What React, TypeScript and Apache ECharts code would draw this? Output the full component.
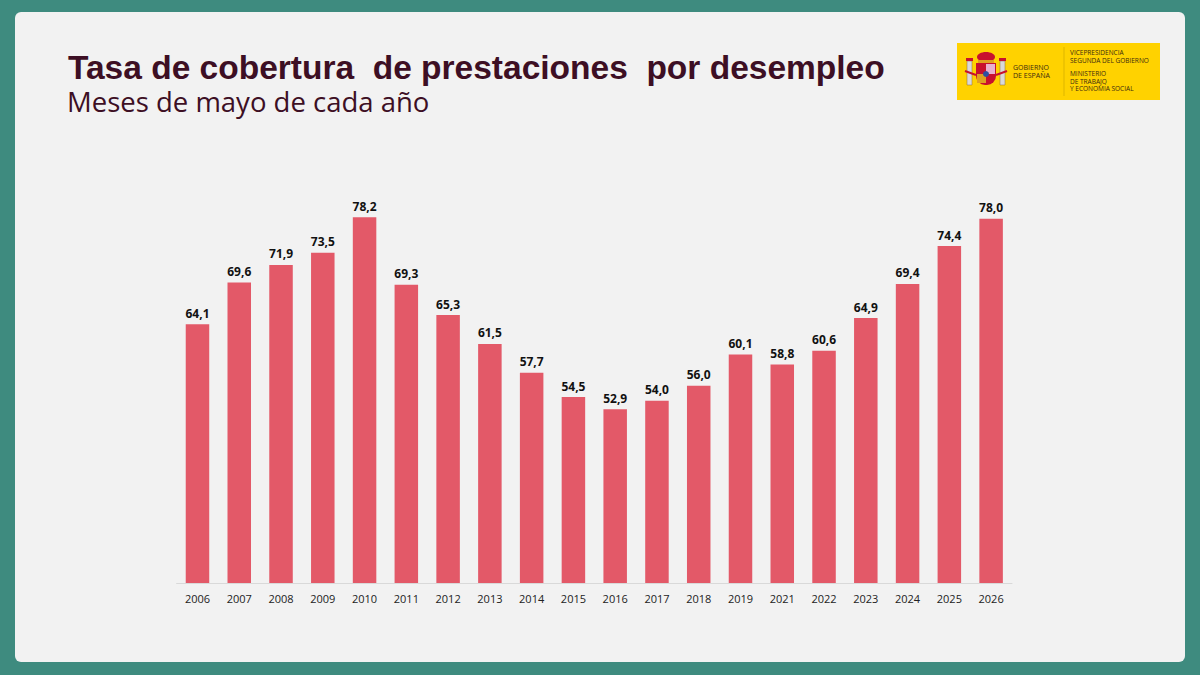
import React, { useEffect, useRef } from "react";
import * as echarts from "echarts";

const years = ["2006","2007","2008","2009","2010","2011","2012","2013","2014","2015","2016","2017","2018","2019","2021","2022","2023","2024","2025","2026"];
const coverage = [64.1,69.6,71.9,73.5,78.2,69.3,65.3,61.5,57.7,54.5,52.9,54.0,56.0,60.1,58.8,60.6,64.9,69.4,74.4,78.0];

const titleText = "Tasa de cobertura  de prestaciones  por desempleo";
const subtitleText = "Meses de mayo de cada año";

const maroon = "#3d0f24";
const barColor = "#e35968";

export default function App() {
  const ref = useRef<HTMLDivElement>(null);
  useEffect(() => {
    if (!ref.current) return;
    const chart = echarts.init(ref.current, undefined, { renderer: "svg" });
    const logoX = 957, logoY = 43;
    chart.setOption({
      animation: false,
      backgroundColor: "#3e8b7f",
      graphic: [
        { type: "rect", z: -10, shape: { x: 15, y: 12, width: 1170, height: 650, r: 6 }, style: { fill: "#f2f2f2" } },
        { type: "text", left: 68, top: 50, style: { text: titleText, font: "bold 33.5px 'Liberation Sans', Arial, sans-serif", fill: maroon } },
        { type: "text", left: 67, top: 87, style: { text: subtitleText, font: "27.5px 'Open Sans', sans-serif", fill: maroon } },
        // logo
        {
          type: "group", x: logoX, y: logoY, children: [
            { type: "rect", shape: { x: 0, y: 0, width: 203, height: 57 }, style: { fill: "#ffd200" } },
            // coat of arms (simplified)
            { type: "rect", shape: { x: 10, y: 18, width: 5, height: 24 }, style: { fill: "#d9d9d9", stroke: "#8a6a3a", lineWidth: 0.5 } },
            { type: "rect", shape: { x: 43, y: 18, width: 5, height: 24 }, style: { fill: "#d9d9d9", stroke: "#8a6a3a", lineWidth: 0.5 } },
            { type: "rect", shape: { x: 9, y: 15, width: 7, height: 3 }, style: { fill: "#c8102e" } },
            { type: "rect", shape: { x: 42, y: 15, width: 7, height: 3 }, style: { fill: "#c8102e" } },
            { type: "ellipse", shape: { cx: 29, cy: 14, rx: 9, ry: 5 }, style: { fill: "#c8102e" } },
            { type: "rect", shape: { x: 21, y: 17, width: 16, height: 3 }, style: { fill: "#e0a020" } },
            { type: "rect", shape: { x: 19, y: 20, width: 20, height: 22, r: [0, 0, 9, 9] }, style: { fill: "#c8102e" } },
            { type: "rect", shape: { x: 29, y: 21, width: 9, height: 10 }, style: { fill: "#e8b0d0" } },
            { type: "rect", shape: { x: 20, y: 31, width: 9, height: 9 }, style: { fill: "#e0a020" } },
            { type: "circle", shape: { cx: 29, cy: 31, r: 3 }, style: { fill: "#3050a0" } },
            { type: "line", shape: { x1: 8, y1: 28, x2: 19, y2: 32 }, style: { stroke: "#c8102e", lineWidth: 2 } },
            { type: "line", shape: { x1: 39, y1: 32, x2: 50, y2: 28 }, style: { stroke: "#c8102e", lineWidth: 2 } },
            { type: "text", x: 56, y: 20, style: { text: "GOBIERNO\nDE ESPAÑA", font: "7px 'Open Sans', sans-serif", fill: "#3a2a10", lineHeight: 8.5 } },
            { type: "line", shape: { x1: 107, y1: 4, x2: 107, y2: 53 }, style: { stroke: "#b89a00", lineWidth: 0.5 } },
            { type: "text", x: 113, y: 5, style: { text: "VICEPRESIDENCIA\nSEGUNDA DEL GOBIERNO", font: "6.5px 'Open Sans', sans-serif", fill: "#3a2a10", lineHeight: 8 } },
            { type: "text", x: 113, y: 27, style: { text: "MINISTERIO\nDE TRABAJO\nY ECONOMÍA SOCIAL", font: "6.5px 'Open Sans', sans-serif", fill: "#3a2a10", lineHeight: 7.5 } },
          ],
        },
      ],
      grid: { left: 176.6, right: 188, top: 203.5, bottom: 92 },
      xAxis: {
        type: "category",
        data: years,
        axisLine: { lineStyle: { color: "#d9d9d9", width: 1 } },
        axisTick: { show: false },
        axisLabel: { color: "#222", fontSize: 11, fontFamily: "'Open Sans', sans-serif", margin: 10 },
      },
      yAxis: {
        type: "value",
        min: 30,
        max: 80,
        show: false,
        splitLine: { show: false },
      },
      series: [
        {
          type: "bar",
          data: coverage,
          barWidth: 23.5,
          itemStyle: { color: barColor },
          label: {
            show: true,
            position: "top",
            distance: 5,
            color: "#111",
            fontSize: 12,
            fontWeight: "bold",
            fontFamily: "'Open Sans', sans-serif",
            formatter: (p: any) => p.value.toFixed(1).replace(".", ","),
          },
        },
      ],
    });
    return () => chart.dispose();
  }, []);
  return <div ref={ref} style={{ position: "absolute", left: 0, top: 0, width: 1200, height: 675 }} />;
}
